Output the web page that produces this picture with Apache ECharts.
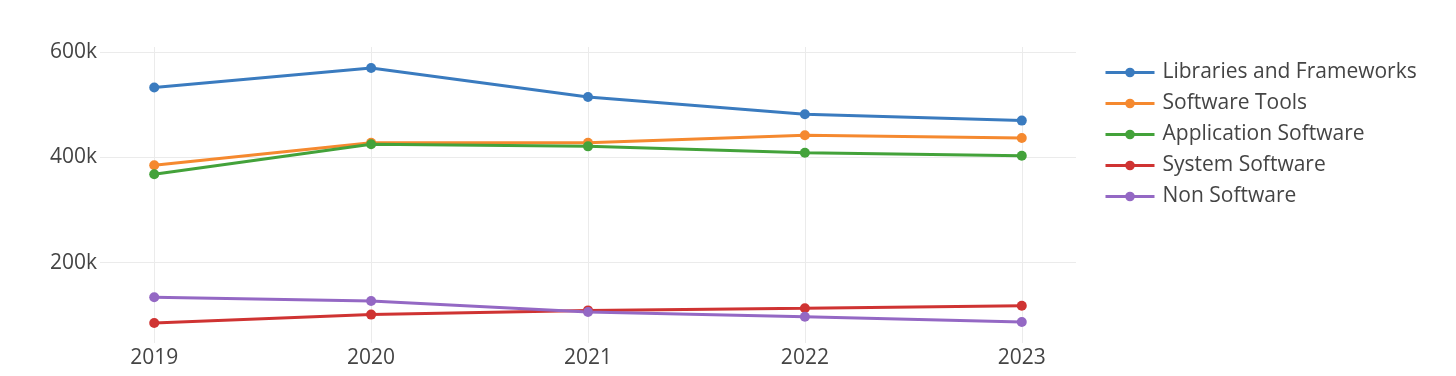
<!DOCTYPE html>
<html>
<head>
<meta charset="utf-8">
<script src="https://cdn.jsdelivr.net/npm/echarts@6/dist/echarts.min.js"></script>
<style>
  html, body { margin: 0; padding: 0; background: #fff; }
  #chart { width: 1456px; height: 376px; }
</style>
</head>
<body>
<div id="chart"></div>
<script>
const years = [2019, 2020, 2021, 2022, 2023];
const seriesNames = ['Libraries and Frameworks', 'Software Tools', 'Application Software', 'System Software', 'Non Software'];
const librariesFrameworks = [533000, 570000, 515000, 482000, 470000];
const softwareTools = [385000, 428000, 428000, 442000, 437000];
const applicationSoftware = [368000, 425000, 421000, 409000, 403000];
const systemSoftware = [85000, 101000, 109000, 113000, 118000];
const nonSoftware = [134000, 127000, 106000, 97000, 87000];
const yTicks = [200000, 400000, 600000];

const colors = ['#3a7bbf', '#f5892f', '#43a23a', '#cf3332', '#9468c4'];
const allValues = [librariesFrameworks, softwareTools, applicationSoftware, systemSoftware, nonSoftware];

const chart = echarts.init(document.getElementById('chart'));
const font = '"Open Sans", sans-serif';

chart.setOption({
  animation: false,
  color: colors,
  grid: { left: 100, right: 380, top: 47, bottom: 33 },
  legend: {
    orient: 'vertical',
    left: 1104,
    top: 62,
    padding: 0,
    itemWidth: 49,
    itemHeight: 12,
    itemGap: 10,
    lineStyle: { width: 3 },
    textStyle: { fontFamily: font, fontSize: 21, color: '#444', padding: [0, 0, 0, 3] }
  },
  xAxis: {
    type: 'value',
    min: 2018.75,
    max: 2023.25,
    axisLine: { show: false },
    axisTick: { show: false, customValues: years },
    axisLabel: {
      customValues: years,
      formatter: v => String(v),
      fontFamily: font, fontSize: 21, color: '#444', margin: 5
    },
    splitLine: { show: true, lineStyle: { color: '#ebebeb', width: 1 } }
  },
  yAxis: {
    type: 'value',
    min: 47000,
    max: 610000,
    axisLine: { show: false },
    axisTick: { show: false, customValues: yTicks },
    axisLabel: {
      customValues: yTicks,
      formatter: v => (v / 1000) + 'k',
      fontFamily: font, fontSize: 21, color: '#444', margin: 3
    },
    splitLine: { show: true, lineStyle: { color: '#ebebeb', width: 1 } }
  },
  series: seriesNames.map((name, i) => ({
    name: name,
    type: 'line',
    data: years.map((y, j) => [y, allValues[i][j]]),
    symbol: 'circle',
    symbolSize: 10,
    lineStyle: { width: 3 },
    itemStyle: { color: colors[i] }
  }))
});
</script>
</body>
</html>
